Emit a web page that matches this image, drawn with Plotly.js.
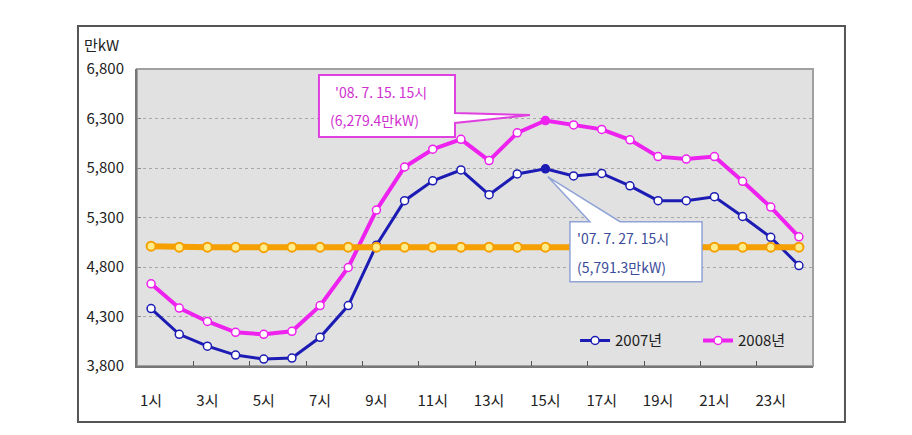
<!DOCTYPE html>
<html><head><meta charset="utf-8">
<script src="https://cdn.plot.ly/plotly-3.0.1.min.js"></script>
<style>html,body{margin:0;padding:0;background:#fff}</style>
</head><body><div id="chart" style="width:912px;height:435px"></div>
<script>
const hourLabels = ['1시','2시','3시','4시','5시','6시','7시','8시','9시','10시','11시','12시',
  '13시','14시','15시','16시','17시','18시','19시','20시','21시','22시','23시','24시'];
const load2007 = [4380,4120,4000,3910,3870,3880,4090,4410,5020,5470,5670,5780,
  5530,5740,5791.3,5720,5745,5620,5470,5470,5510,5310,5100,4815];
const load2008 = [4630,4385,4250,4140,4120,4150,4410,4795,5375,5810,5990,6090,
  5875,6155,6279.4,6235,6190,6085,5915,5890,5915,5665,5405,5105];
const reserveLine = [5010,5000,5000,5000,4995,5000,5000,5000,5000,5000,5000,5000,
  5000,5000,5000,5000,5000,5000,5000,5000,5000,5000,5000,5000];
const seriesNames = ['2007년','2008년'];
const yTicks = [3800,4300,4800,5300,5800,6300,6800];
const note2008 = ["'08. 7. 15. 15시", "(6,279.4만kW)"];
const note2007 = ["'07. 7. 27. 15시", "(5,791.3만kW)"];

const FONT = '"Noto Sans CJK KR", "Noto Sans", sans-serif';
const blue = '#1c1cb4', mag = '#ee22ee', orange = '#f5a000';
function peakIdx(a){ let m=0; a.forEach((v,i)=>{ if(v>a[m]) m=i; }); return m; }
function markerFill(a,c){ const p=peakIdx(a); return a.map((v,i)=> i===p ? c : '#ffffff'); }

const traces = [
  {x: hourLabels, y: load2007, name: seriesNames[0], type:'scatter', mode:'lines+markers',
   line:{color:blue, width:3}, marker:{size:8, color:markerFill(load2007,blue), line:{color:blue,width:1.5}}},
  {x: hourLabels, y: load2008, name: seriesNames[1], type:'scatter', mode:'lines+markers',
   line:{color:mag, width:4}, marker:{size:8, color:markerFill(load2008,mag), line:{color:mag,width:1.5}}},
  {x: hourLabels, y: reserveLine, name:'', showlegend:false, type:'scatter', mode:'lines+markers',
   line:{color:orange, width:6}, marker:{size:9, color:'#ffec8a', line:{color:orange,width:2}}}
];

const p8 = peakIdx(load2008), p7 = peakIdx(load2007);
const layout = {
  width:912, height:435,
  margin:{l:137, r:99, t:69, b:69},
  paper_bgcolor:'#ffffff', plot_bgcolor:'#e1e1e1',
  font:{family:FONT, size:15, color:'#222'},
  showlegend:true,
  legend:{orientation:'h', x:0.648, y:0.085, xanchor:'left', yanchor:'middle',
    bgcolor:'rgba(0,0,0,0)', font:{family:FONT, size:15, color:'#222'}, itemwidth:30, entrywidth:78,
    tracegroupgap:0},
  xaxis:{type:'category', range:[-0.5,23.5], tickmode:'linear', tick0:0, dtick:2, tickangle:0,
    tickson:'boundaries', ticks:'inside', ticklen:5, tickcolor:'#555', tickwidth:1,
    showgrid:false, showline:true, linecolor:'#777', linewidth:2, zeroline:false,
    ticklabelstandoff:20, tickfont:{family:FONT, size:15, color:'#222'}},
  yaxis:{range:[3800,6800], tickvals:yTicks, tickformat:',d', ticks:'inside', ticklen:4,
    tickcolor:'#888', showgrid:true, gridcolor:'#a8a8a8', griddash:'dot', gridwidth:1,
    showline:true, linecolor:'#777', linewidth:2, zeroline:false, ticklabelstandoff:8,
    tickfont:{family:FONT, size:15, color:'#222'}},
  shapes:[
    {type:'rect', xref:'paper', yref:'paper', x0:-0.0873, x1:1.0473, y0:-0.1886, y1:1.1448,
     line:{color:'#555', width:2}, fillcolor:'rgba(0,0,0,0)', layer:'below'},
    {type:'rect', xref:'paper', yref:'paper', x0:0, x1:1, y0:0, y1:1,
     line:{color:'#a0a0a0', width:2}, fillcolor:'rgba(0,0,0,0)', layer:'below'},
    {type:'path', xref:'x', yref:'y', layer:'above',
     path:`M 5.96,6739 L 10.79,6739 L 10.79,6356 L ${p8-0.55},${load2008[p8]+55} L 10.79,6255 L 10.79,6113 L 5.96,6113 Z`,
     fillcolor:'#ffffff', line:{color:'#e040e0', width:2}},
    {type:'path', xref:'x', yref:'y', layer:'above',
     path:`M 14.87,5258 L 15.58,5258 L ${p7+0.09},${load2007[p7]-80} L 16.65,5258 L 19.56,5258 L 19.56,4651 L 14.87,4651 Z`,
     fillcolor:'#ffffff', line:{color:'#8fa3d6', width:1.5}}
  ],
  annotations:[
    {xref:'paper', yref:'paper', x:-0.081, y:1.081, xanchor:'left', yanchor:'middle',
     text:'만kW', showarrow:false, font:{family:FONT, size:15, color:'#222'}},
    {xref:'x', yref:'y', x:6.46, y:6568, xanchor:'left', yanchor:'middle', text:note2008[0],
     showarrow:false, font:{family:FONT, size:14, color:'#d030d0'}},
    {xref:'x', yref:'y', x:6.28, y:6285, xanchor:'left', yanchor:'middle', text:note2008[1],
     showarrow:false, font:{family:FONT, size:14, color:'#d030d0'}},
    {xref:'x', yref:'y', x:15.05, y:5093, xanchor:'left', yanchor:'middle', text:note2007[0],
     showarrow:false, font:{family:FONT, size:14, color:'#3a4c9a'}},
    {xref:'x', yref:'y', x:15.05, y:4803, xanchor:'left', yanchor:'middle', text:note2007[1],
     showarrow:false, font:{family:FONT, size:14, color:'#3a4c9a'}}
  ]
};
Plotly.newPlot('chart', traces, layout, {displayModeBar:false, staticPlot:true});
</script></body></html>
